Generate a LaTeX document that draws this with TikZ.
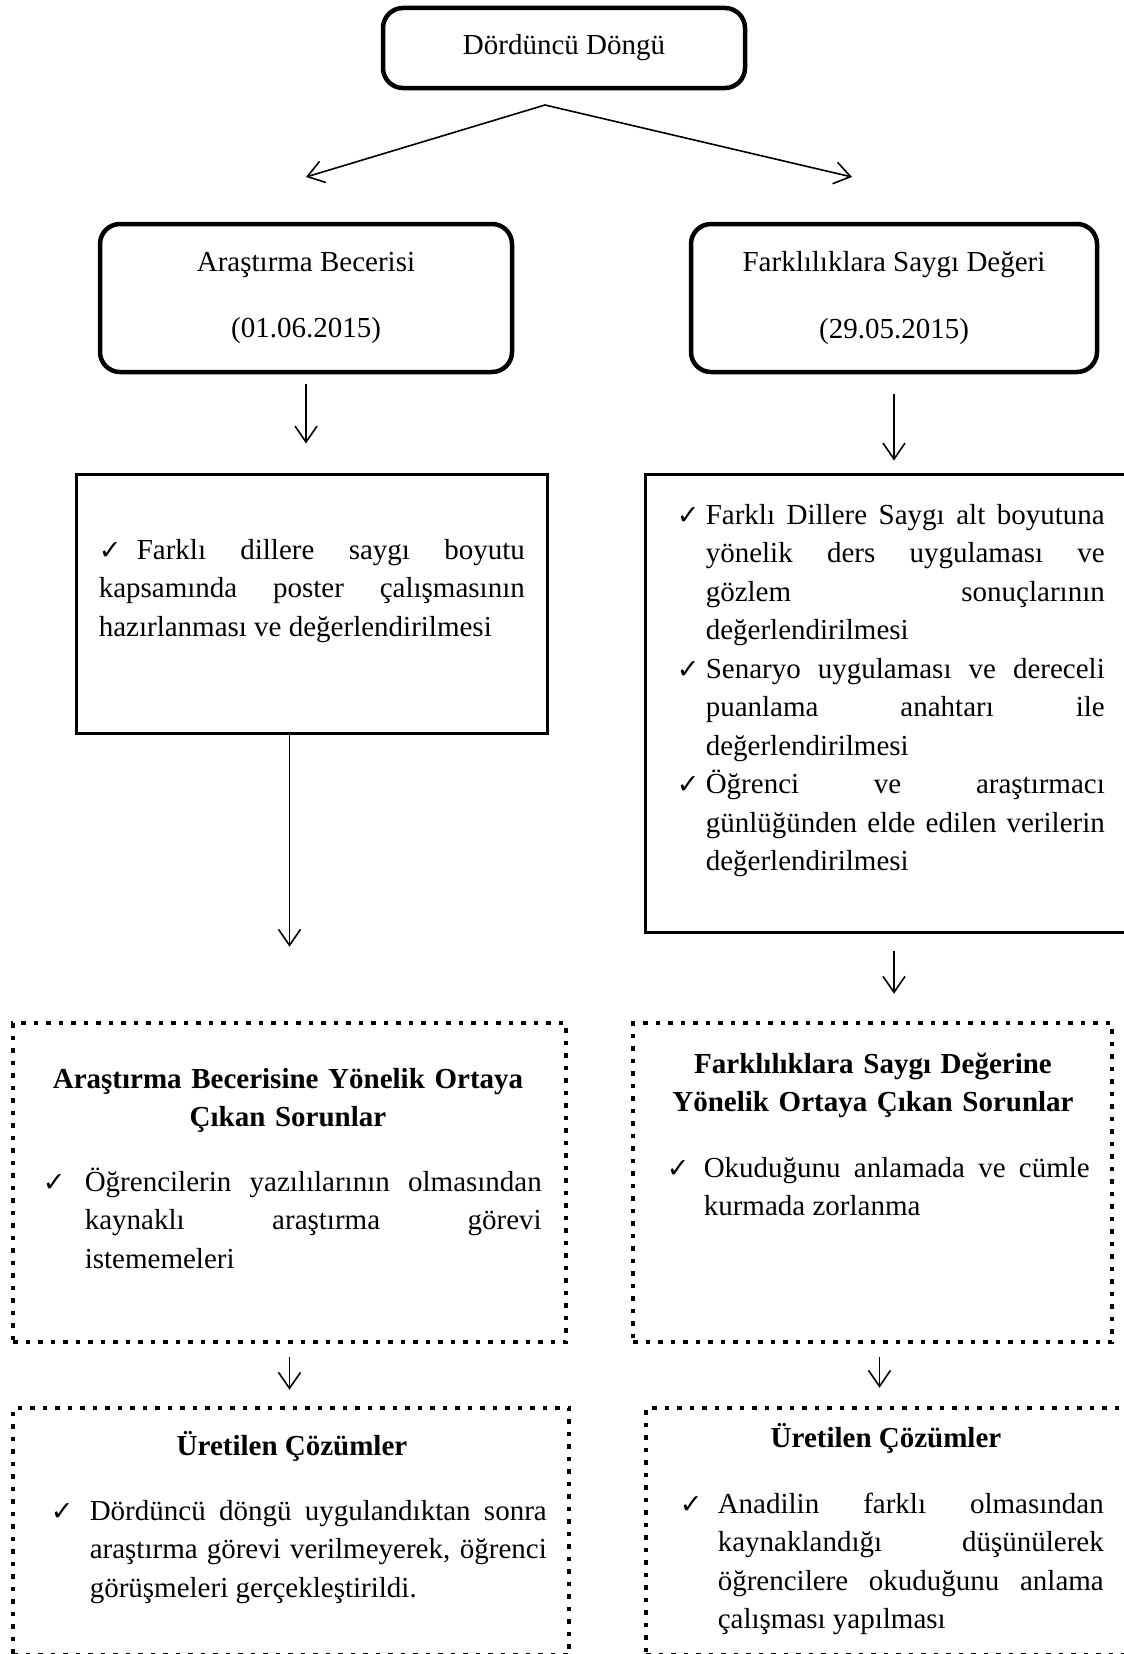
\documentclass[tikz,border=0pt]{standalone}
\usepackage{fontspec}
\setmainfont{Liberation Serif}
\newfontfamily\symfont{DejaVu Sans}
\usepackage{tikz}
\usetikzlibrary{arrows.meta}
\usetikzlibrary{calc}
\usetikzlibrary{positioning}

\newcommand{\tickmark}{{\symfont\fontsize{27}{27}\selectfont ✓}}
\newcommand{\madde}[1]{\noindent\llap{\makebox[#1][l]{\tickmark}}}
\newcommand{\duz}{\hyphenpenalty=10000 \exhyphenpenalty=10000 \tolerance=10000 \hbadness=10000 \hfuzz=20pt}

\tikzset{
  rbox/.style={draw, line width=4.5pt, rounded corners=20pt},
  sbox/.style={draw, line width=3pt},
  dbox/.style={draw, line width=4.5pt, dash pattern=on 4.5pt off 8pt},
  body/.style={font=\fontsize{29}{38.5}\selectfont\duz, inner sep=0pt},
  para/.style={body, align=justify, anchor=base west},
  head/.style={body, font=\fontsize{29}{38.5}\selectfont\bfseries, align=center, anchor=base},
}

\begin{document}
\begin{tikzpicture}[x=1pt, y=-1pt, >={Straight Barb[length=16pt, width=22pt]}, line width=1.6pt]
  \useasboundingbox (0,0) rectangle (1124,1654);

  \node[rbox, body, minimum width=362pt, minimum height=80pt] (dongu) at (564,48) {Dördüncü Döngü};
  \coordinate (tepe) at (545,105);
  \coordinate (solok) at (306,177);
  \coordinate (sagok) at (852,177);
  \draw[->] (tepe) -- (solok);
  \draw[->] (tepe) -- (sagok);

%%%%%%%%%%%% Beceri / Deger
  \node[rbox, body, align=center, minimum width=412pt, minimum height=148pt] (arastirma) at (306,298)
    {Araştırma Becerisi\\[28pt](01.06.2015)};
  \node[rbox, body, align=center, minimum width=406pt, minimum height=148pt] (farklilik) at (894,298)
    {Farklılıklara Saygı Değeri\\[28pt](29.05.2015)};

%%%%%%%%%%%% Uygulamalar
  \node[sbox, minimum width=471pt, minimum height=259pt] (poster) at (311.5,603.5) {};
  \node[para, text width=426pt] (posterx) at (98,559)
    {\makebox[38pt][l]{\tickmark}Farklı dillere saygı boyutu\linebreak kapsamında poster çalışmasının\linebreak hazırlanması ve değerlendirilmesi};

  \node[sbox, minimum width=490pt, minimum height=458pt] (ders) at (890,703) {};
  \node[para, text width=399pt] (dersx) at (705,524)
    {\madde{29pt}Farklı Dillere Saygı alt boyutuna\linebreak yönelik ders uygulaması ve\linebreak gözlem sonuçlarının\linebreak değerlendirilmesi\par
     \madde{29pt}Senaryo uygulaması ve dereceli\linebreak puanlama anahtarı ile\linebreak değerlendirilmesi\par
     \madde{29pt}Öğrenci ve araştırmacı\linebreak günlüğünden elde edilen verilerin\linebreak değerlendirilmesi};

%%%%%%%%%%%% Sorunlar
  \node[dbox, minimum width=553pt, minimum height=319pt] (sorun) at (289.5,1182.5) {};
  \node[head, text width=520pt] (sorunx) at (288,1088) {Araştırma Becerisine Yönelik Ortaya\\Çıkan Sorunlar};
  \node[para, text width=457pt] (sorunm) at (84,1191)
    {\madde{42pt}Öğrencilerin yazılılarının olmasından\linebreak kaynaklı araştırma görevi\linebreak istememeleri};

  \node[dbox, minimum width=479pt, minimum height=319pt] (engel) at (872.5,1182.5) {};
  \node[head, text width=460pt] (engelx) at (873,1073) {Farklılıklara Saygı Değerine\\Yönelik Ortaya Çıkan Sorunlar};
  \node[para, text width=386pt] (engelm) at (703,1177)
    {\madde{37pt}Okuduğunu anlamada ve cümle\linebreak kurmada zorlanma};

%%%%%%%%%%%% Cozumler
  \node[dbox, minimum width=556pt, minimum height=247pt] (cozum) at (291,1531.5) {};
  \node[head] (cozumx) at (292,1455) {Üretilen Çözümler};
  \node[para, text width=457pt] (cozumm) at (89,1520)
    {\madde{39pt}Dördüncü döngü uygulandıktan sonra\linebreak araştırma görevi verilmeyerek, öğrenci\linebreak görüşmeleri gerçekleştirildi.};

  \node[dbox, minimum width=488pt, minimum height=247pt] (cozumb) at (890,1531.5) {};
  \node[head] (cozumbx) at (886,1447) {Üretilen Çözümler};
  \node[para, text width=386pt] (cozumbm) at (717,1513)
    {\madde{38pt}Anadilin farklı olmasından\linebreak kaynaklandığı düşünülerek\linebreak öğrencilere okuduğunu anlama\linebreak çalışması yapılması};

%%%%%%%%%%%% Oklar
  \draw[->, shorten <=10pt, shorten >=29pt] (arastirma.south) -- (arastirma.south |- poster.north);
  \draw[->, shorten <=20pt, shorten >=12pt] (farklilik.south) -- (farklilik.south |- ders.north);
  \draw[->, shorten >=74pt] (poster.south -| sorun.north) -- (sorun.north);
  \draw[->, shorten <=17pt, shorten >=27pt] (farklilik.south |- ders.south) -- (farklilik.south |- engel.north);
  \draw[->, shorten <=13pt, shorten >=16pt] (sorun.south) -- (sorun.south |- cozum.north);
  \draw[->, shorten <=13pt, shorten >=18pt] ([xshift=7pt]engel.south) -- ([xshift=7pt]engel.south |- cozumb.north);
\end{tikzpicture}
\end{document}
